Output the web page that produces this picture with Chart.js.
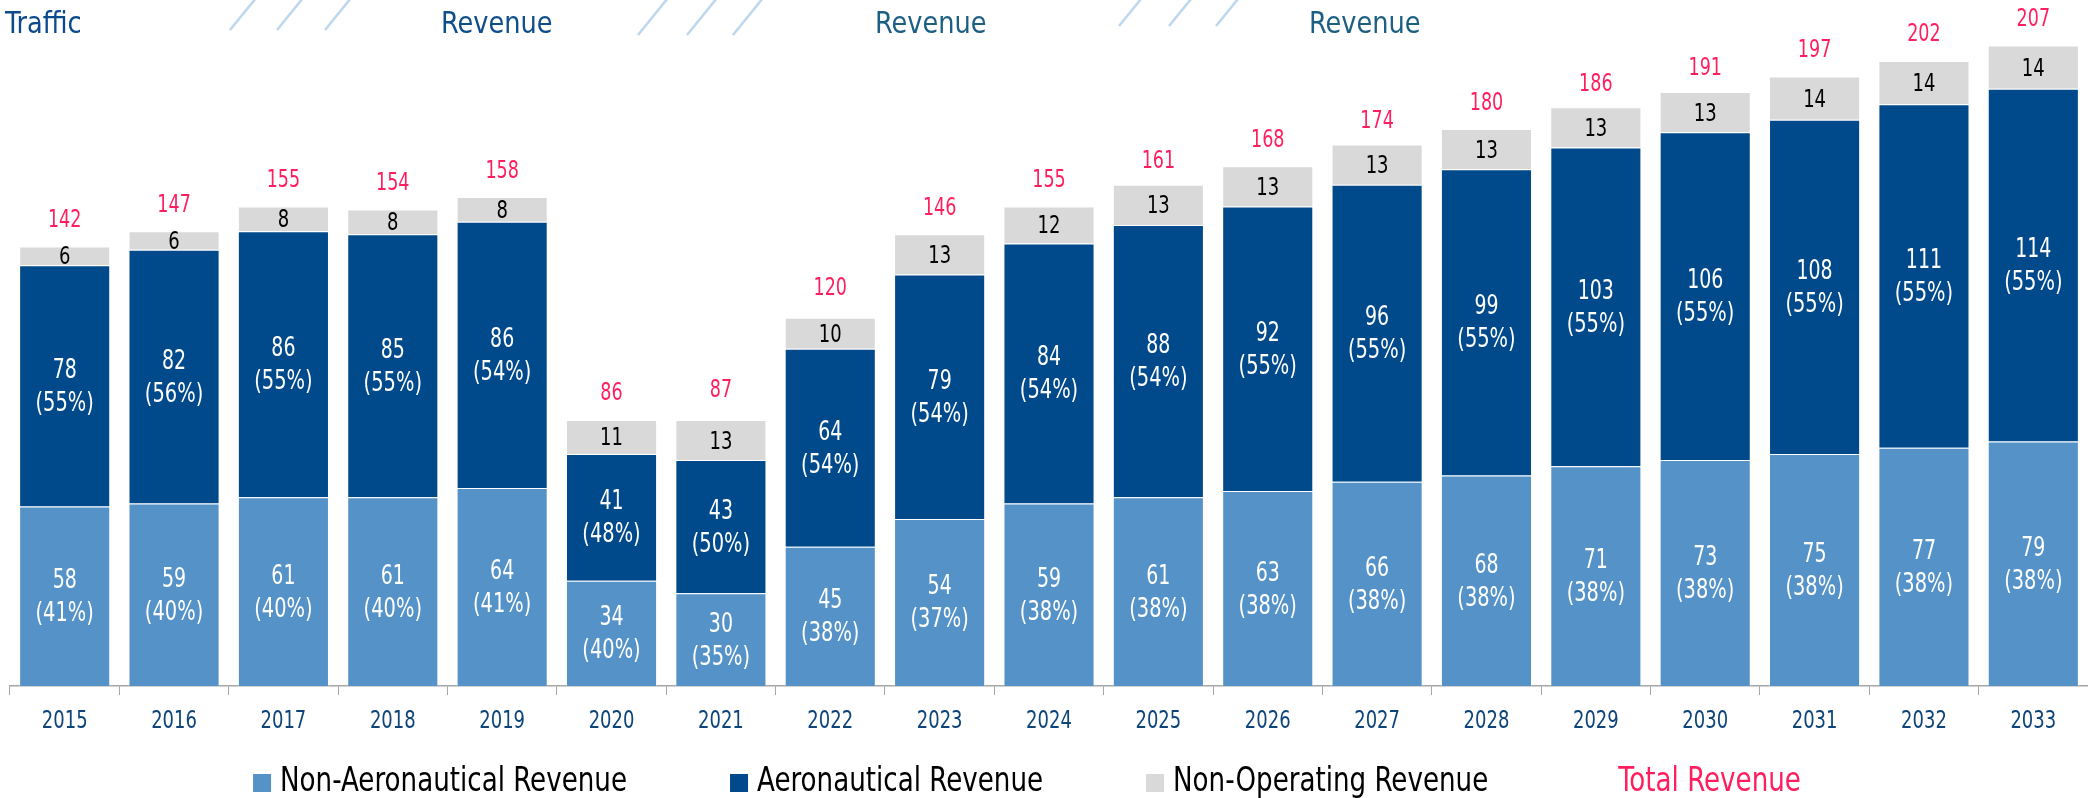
<!DOCTYPE html>
<html>
<head>
<meta charset="utf-8">
<script src="https://cdn.jsdelivr.net/npm/chart.js@4.4.1/dist/chart.umd.min.js"></script>
<style>
  html, body { margin: 0; padding: 0; background: #fff; }
</style>
</head>
<body>
<canvas id="revenueChart" width="2088" height="798"></canvas>
<script>
var years = ["2015", "2016", "2017", "2018", "2019", "2020", "2021", "2022", "2023", "2024",
             "2025", "2026", "2027", "2028", "2029", "2030", "2031", "2032", "2033"];
var nonAero = [58, 59, 61, 61, 64, 34, 30, 45, 54, 59, 61, 63, 66, 68, 71, 73, 75, 77, 79];
var aero = [78, 82, 86, 85, 86, 41, 43, 64, 79, 84, 88, 92, 96, 99, 103, 106, 108, 111, 114];
var nonOper = [6, 6, 8, 8, 8, 11, 13, 10, 13, 12, 13, 13, 13, 13, 13, 13, 14, 14, 14];
var totals = [142, 147, 155, 154, 158, 86, 87, 120, 146, 155, 161, 168, 174, 180, 186, 191, 197, 202, 207];
var nonAeroPct = [41, 40, 40, 40, 41, 40, 35, 38, 37, 38, 38, 38, 38, 38, 38, 38, 38, 38, 38];
var aeroPct = [55, 56, 55, 55, 54, 48, 50, 54, 54, 54, 54, 55, 55, 55, 55, 55, 55, 55, 55];
var headers = ["Traffic", "Revenue", "Revenue", "Revenue"];

var NARROW = "'Liberation Sans Narrow', 'DejaVu Sans Condensed', 'Roboto', sans-serif";
var PINK = '#ff1f5e';

// the slide font is a narrow condensed face, so squeeze the text a bit
function narrowText(c, text, x, y, sx) {
    c.save();
    c.translate(x, y);
    c.scale(sx, 1);
    c.fillText(text, 0, 0);
    c.restore();
}

// header strip cut off from the slide above the chart
var headerPlugin = {
    id: 'headerStrip',
    afterDraw: function (chart) {
        var c = chart.ctx;
        c.save();
        c.font = '30px ' + NARROW;
        c.textBaseline = 'alphabetic';
        c.textAlign = 'left';
        var hx = [5, 441, 875, 1309];
        var hc = ['#0b4a8c', '#0e4e8a', '#1d5f82', '#1d5f82'];
        headers.forEach(function (t, i) {
            c.fillStyle = hc[i];
            narrowText(c, t, hx[i], 33, 0.95);
        });
        c.strokeStyle = '#bdd7ee';
        c.lineWidth = 2.5;
        var slashes = [[230, 30], [277, 30], [325, 30], [638, 35], [687, 35], [733, 35], [1119, 26], [1169, 26], [1216, 26]];
        slashes.forEach(function (s) {
            c.beginPath();
            c.moveTo(s[0], s[1]);
            c.lineTo(s[0] + s[1] * 0.8 + 2, -2);
            c.stroke();
        });
        c.restore();
    }
};

var labelPlugin = {
    id: 'segLabels',
    afterDatasetsDraw: function (chart) {
        var c = chart.ctx;
        c.save();
        c.textAlign = 'center';
        c.textBaseline = 'middle';
        var pcts = [nonAeroPct, aeroPct];
        [0, 1].forEach(function (di) {
            var meta = chart.getDatasetMeta(di);
            meta.data.forEach(function (bar, i) {
                var p = bar.getProps(['x', 'y', 'base'], true);
                var cy = (p.y + p.base) / 2 + 1;
                c.fillStyle = '#ffffff';
                c.font = '27px ' + NARROW;
                narrowText(c, chart.data.datasets[di].data[i], p.x, cy - 16, 0.78);
                narrowText(c, '(' + pcts[di][i] + '%)', p.x, cy + 17, 0.8);
            });
        });
        var gm = chart.getDatasetMeta(2);
        gm.data.forEach(function (bar, i) {
            var p = bar.getProps(['x', 'y', 'base'], true);
            c.fillStyle = '#000000';
            c.font = '25px ' + NARROW;
            narrowText(c, chart.data.datasets[2].data[i], p.x, (p.y + p.base) / 2 + 2, 0.8);
        });
        var tm = chart.getDatasetMeta(3);
        tm.data.forEach(function (pt, i) {
            c.fillStyle = PINK;
            c.font = '25px ' + NARROW;
            narrowText(c, totals[i], pt.x, pt.y - 26, 0.78);
        });
        // year labels at the scale's own tick positions
        var xs = chart.scales.x;
        c.fillStyle = '#0d4479';
        c.font = '25px ' + NARROW;
        chart.data.labels.forEach(function (lab, i) {
            narrowText(c, lab, xs.getPixelForTick(i), 721, 0.8);
        });
        c.restore();
    }
};

// legend drawn by hand so the item spacing matches the slide
var legendPlugin = {
    id: 'bottomLegend',
    afterDraw: function (chart) {
        var c = chart.ctx;
        c.save();
        c.font = '34px ' + NARROW;
        c.textBaseline = 'middle';
        c.textAlign = 'left';
        var sx = 0.855, box = 18, gap = 9, pad = 103, cy = 782;
        var items = chart.data.datasets.map(function (ds, i) {
            return {
                text: ds.label,
                box: i < 3 ? ds.backgroundColor : null,
                color: i < 3 ? '#000000' : PINK,
                w: box + gap + c.measureText(ds.label).width * sx
            };
        });
        var total = items.reduce(function (s, it) { return s + it.w; }, 0) + pad * (items.length - 1);
        var x = 1027 - total / 2;
        items.forEach(function (it) {
            if (it.box) {
                c.fillStyle = it.box;
                c.fillRect(x, cy - box / 2 + 1, box, box);
            }
            c.fillStyle = it.color;
            narrowText(c, it.text, x + box + gap, cy, sx);
            x += it.w + pad;
        });
        c.restore();
    }
};

var ctx = document.getElementById('revenueChart');
var chartRevenue = new Chart(ctx, {
    type: 'bar',
    data: {
        labels: years,
        datasets: [{
            label: 'Non-Aeronautical Revenue',
            data: nonAero,
            backgroundColor: '#5592c8',
            borderColor: 'rgba(255,255,255,0.35)',
            borderWidth: 1
        }, {
            label: 'Aeronautical Revenue',
            data: aero,
            backgroundColor: '#004a8c',
            borderColor: 'rgba(255,255,255,0.35)',
            borderWidth: 1
        }, {
            label: 'Non-Operating Revenue',
            data: nonOper,
            backgroundColor: '#d9d9d9',
            borderColor: 'rgba(255,255,255,0.5)',
            borderWidth: 1
        }, {
            type: 'line',
            label: 'Total Revenue',
            data: totals,
            stack: 'total',
            showLine: false,
            pointRadius: 0,
            borderColor: PINK,
            backgroundColor: PINK
        }]
    },
    options: {
        responsive: false,
        animation: false,
        devicePixelRatio: 1,
        layout: {
            padding: { left: 10, right: 0, top: 0, bottom: 49 }
        },
        datasets: {
            bar: { barPercentage: 0.833, categoryPercentage: 1 }
        },
        scales: {
            x: {
                stacked: true,
                grid: {
                    offset: true,
                    drawOnChartArea: false,
                    drawTicks: true,
                    tickLength: 9,
                    color: '#a6a6a6',
                    lineWidth: 1
                },
                border: { display: true, color: '#a6a6a6', width: 1.5 },
                ticks: {
                    color: 'rgba(0,0,0,0)',
                    padding: 12,
                    font: { family: NARROW, size: 25 }
                }
            },
            y: {
                stacked: true,
                display: false,
                min: 0,
                max: 221.7
            }
        },
        plugins: {
            legend: { display: false },
            tooltip: { enabled: false }
        }
    },
    plugins: [headerPlugin, labelPlugin, legendPlugin]
});
</script>
</body>
</html>
